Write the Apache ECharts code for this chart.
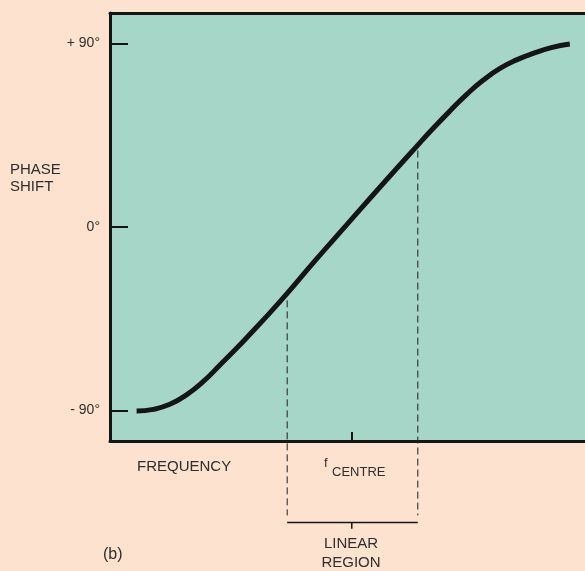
<!DOCTYPE html>
<html>
<head>
<meta charset="utf-8">
<script src="https://cdn.jsdelivr.net/npm/echarts@6/dist/echarts.min.js"></script>
<style>
html,body{margin:0;padding:0;background:#fce2cf;}
#c{width:585px;height:571px;}
</style>
</head>
<body>
<div id="c"></div>
<script>
// normalised frequency (0..100) and phase shift (degrees)
var freq = [5.6, 9.1, 12.6, 16.1, 19.6, 23.2, 26.7, 30.1, 33.7, 37.3, 43.0, 50.0, 57.0, 64.8, 68.0, 71.6, 75.1, 78.6, 82.1, 85.6, 89.1, 92.9, 96.8];
var phase = [-90.3, -89.5, -87.0, -82.4, -75.9, -67.6, -59.4, -51.0, -42.0, -32.6, -17.0, 1.5, 20.0, 40.2, 48.3, 57.0, 65.1, 72.1, 77.8, 82.0, 85.2, 88.0, 89.8];
var yTickValues = [-90, 0, 90];
var yTickLabels = ['- 90°', '0°', '+ 90°'];
var fCentre = 50.9;
var linearStart = 37.3, linearStartPhase = -36;
var linearEnd = 64.8, linearEndPhase = 37.5;
var dashBottom = -141.5, bracketLevel = -145, bracketTick = -148;

var curve = freq.map(function (f, i) { return [f, phase[i]]; });
var ink = '#151515';
var textColor = '#2e2e2e';
var font = '"Liberation Sans", Arial, sans-serif';

var chart = echarts.init(document.getElementById('c'), null, {renderer: 'canvas'});
chart.setOption({
  backgroundColor: '#fce2cf',
  animation: false,
  grid: {left: 110, right: 0, top: 13, bottom: 130, show: true, backgroundColor: '#a6d6c8', borderWidth: 0},
  xAxis: [{
    type: 'value', min: 0, max: 100, position: 'bottom',
    axisLine: {show: true, onZero: false, lineStyle: {color: ink, width: 3}},
    axisTick: {show: true, inside: true, length: 9, customValues: [fCentre], lineStyle: {color: ink, width: 2}},
    axisLabel: {show: false},
    splitLine: {show: false}
  }, {
    type: 'value', min: 0, max: 100, position: 'top',
    axisLine: {show: true, onZero: false, lineStyle: {color: ink, width: 3}},
    axisTick: {show: false}, axisLabel: {show: false}, splitLine: {show: false}
  }],
  yAxis: {
    type: 'value', min: -105, max: 105,
    axisLine: {show: true, onZero: false, lineStyle: {color: ink, width: 3}},
    axisTick: {show: true, inside: true, length: 18, customValues: yTickValues, lineStyle: {color: ink, width: 2}},
    axisLabel: {
      show: true, customValues: yTickValues, margin: 10,
      color: textColor, fontSize: 14, fontFamily: font,
      formatter: function (v) { var i = yTickValues.indexOf(v); return i >= 0 ? yTickLabels[i] : ''; }
    },
    splitLine: {show: false}
  },
  series: [{
    type: 'line', data: curve, smooth: 0.5, symbol: 'none',
    lineStyle: {color: ink, width: 5, cap: 'butt'}
  }, {
    type: 'line', data: [[linearStart, linearStartPhase], [linearStart, dashBottom]], symbol: 'none', clip: false,
    lineStyle: {color: '#1e1e1e', width: 1, type: [7, 4]}
  }, {
    type: 'line', data: [[linearEnd, linearEndPhase], [linearEnd, dashBottom]], symbol: 'none', clip: false,
    lineStyle: {color: '#1e1e1e', width: 1, type: [7, 4]}
  }, {
    type: 'line', data: [[linearStart, bracketLevel], [linearEnd, bracketLevel]], symbol: 'none', clip: false,
    lineStyle: {color: ink, width: 1.5}
  }, {
    type: 'line', data: [[fCentre, bracketLevel], [fCentre, bracketTick]], symbol: 'none', clip: false,
    lineStyle: {color: ink, width: 1.5}
  }],
  graphic: [
    {type: 'text', x: 10, y: 170, style: {text: 'PHASE', fill: textColor, font: '15px ' + font, textVerticalAlign: 'middle'}},
    {type: 'text', x: 10, y: 187, style: {text: 'SHIFT', fill: textColor, font: '15px ' + font, textVerticalAlign: 'middle'}},
    {type: 'text', x: 137, y: 467, style: {text: 'FREQUENCY', fill: textColor, font: '15px ' + font, textVerticalAlign: 'middle'}},
    {type: 'text', x: 324, y: 463, style: {text: 'f', fill: textColor, font: '13px ' + font, textVerticalAlign: 'middle'}},
    {type: 'text', x: 332, y: 472, style: {text: 'CENTRE', fill: textColor, font: '13px ' + font, textVerticalAlign: 'middle'}},
    {type: 'text', x: 351, y: 544, style: {text: 'LINEAR', fill: textColor, font: '15px ' + font, textAlign: 'center', textVerticalAlign: 'middle'}},
    {type: 'text', x: 351, y: 563, style: {text: 'REGION', fill: textColor, font: '15px ' + font, textAlign: 'center', textVerticalAlign: 'middle'}},
    {type: 'text', x: 103, y: 555, style: {text: '(b)', fill: textColor, font: '16px ' + font, textVerticalAlign: 'middle'}}
  ]
});
</script>
</body>
</html>
